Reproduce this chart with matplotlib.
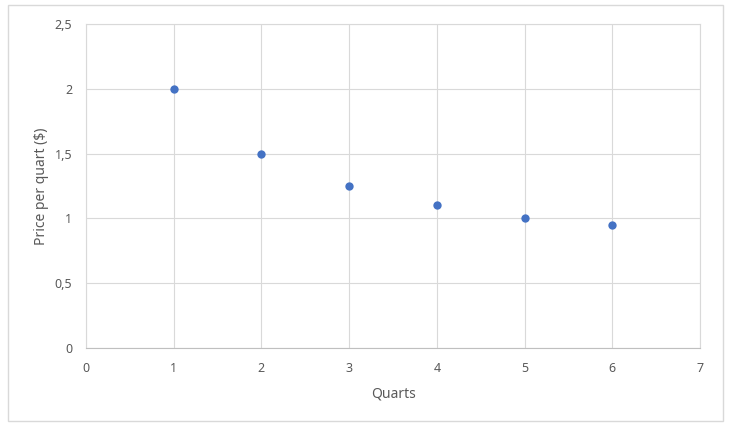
import matplotlib
matplotlib.use("Agg")
import matplotlib.pyplot as plt
from matplotlib.patches import Rectangle
from matplotlib.ticker import FuncFormatter

plt.rcParams['font.family'] = ['Noto Sans', 'DejaVu Sans']

quarts = [1, 2, 3, 4, 5, 6]
price = [2.0, 1.5, 1.25, 1.1, 1.0, 0.95]

fig = plt.figure(figsize=(7.34, 4.32), dpi=100)
fig.patches.append(Rectangle((8 / 734, 1 - 421 / 432), 715 / 734, 416 / 432,
                             transform=fig.transFigure, fill=False,
                             edgecolor='#d9d9d9', linewidth=1))
ax = fig.add_axes([86 / 734, 1 - 348 / 432, 614 / 734, 324 / 432])

ax.scatter(quarts, price, s=36, color='#4472C4', zorder=3, linewidths=0)

ax.set_xlim(0, 7)
ax.set_ylim(0, 2.5)
ax.set_xticks(range(0, 8))
ax.set_yticks([0, 0.5, 1, 1.5, 2, 2.5])
ax.yaxis.set_major_formatter(FuncFormatter(lambda v, p: f"{v:g}".replace('.', ',')))
ax.grid(True, color='#d9d9d9', linewidth=0.8)
ax.set_axisbelow(True)
for s in ax.spines.values():
    s.set_color('#d9d9d9')
    s.set_linewidth(0.8)
ax.spines['bottom'].set_color('#bfbfbf')
ax.tick_params(length=0, colors='#595959', labelsize=9, pad=10)

ax.set_xlabel('Quarts', fontsize=10, color='#595959', labelpad=8)
ax.set_ylabel('Price per quart ($)', fontsize=10, color='#595959', labelpad=4)

fig.savefig('out.png', dpi=100)
